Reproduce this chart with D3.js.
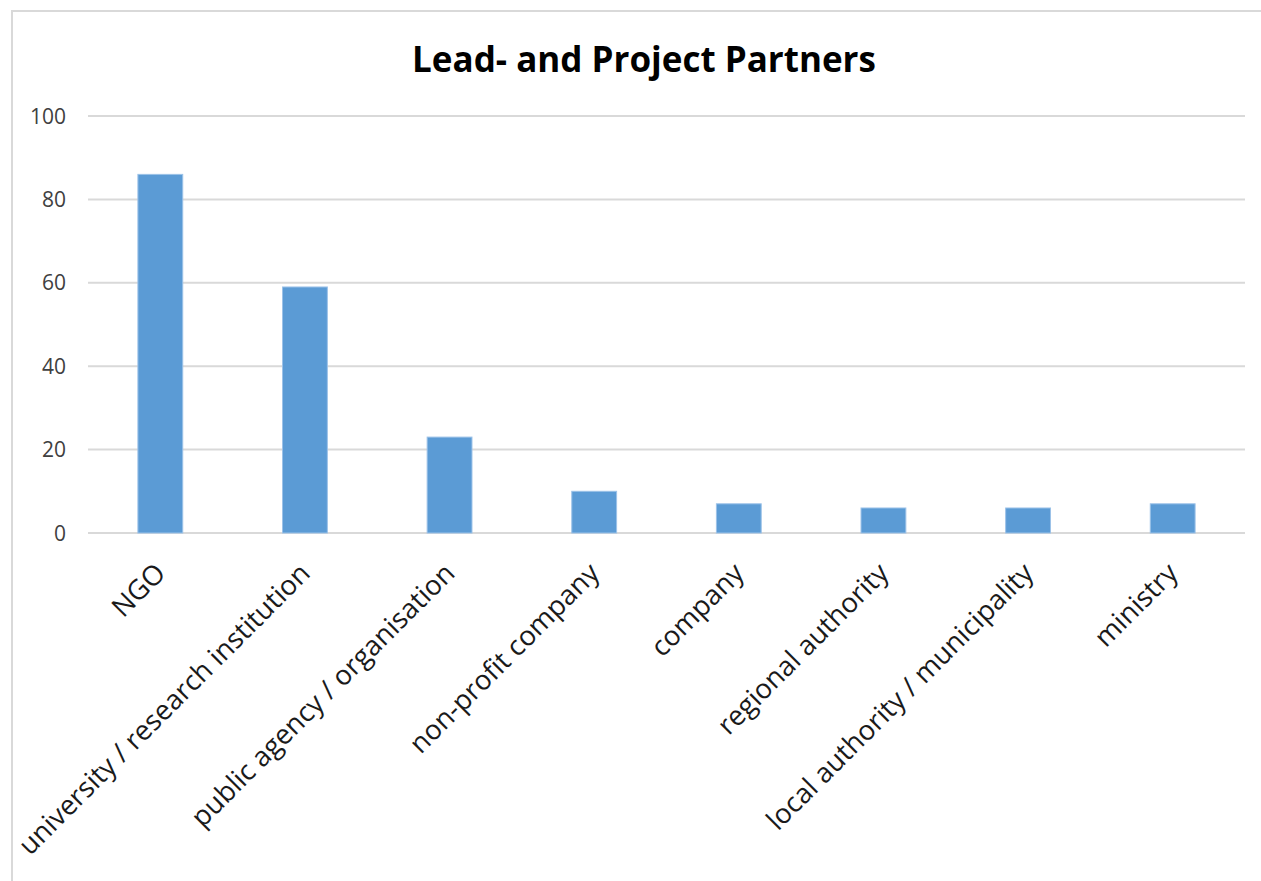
<!DOCTYPE html>
<html>
<head>
<meta charset="utf-8">
<script src="https://cdn.jsdelivr.net/npm/d3@7"></script>
<style>
  body { margin: 0; background: #fff; }
  svg { display: block; font-family: "Open Sans", Lato, sans-serif; }
</style>
</head>
<body>
<svg id="chart" width="1261" height="881"></svg>
<script>
// chart data
var categories = [
  "NGO",
  "university / research institution",
  "public agency / organisation",
  "non-profit company",
  "company",
  "regional authority",
  "local authority / municipality",
  "ministry"
];
var partners = [86, 59, 23, 10, 7, 6, 6, 7];
var yTicks = [0, 20, 40, 60, 80, 100];
var chartTitle = "Lead- and Project Partners";

var svg = d3.select("#chart");

// chart area frame (only top and left edges show in the crop)
svg.append("path")
  .attr("d", "M12,881V11H1261")
  .attr("fill", "none")
  .attr("stroke", "#d9d9d9")
  .attr("stroke-width", 2);

var x = d3.scaleBand()
  .domain(categories)
  .range([88, 1245])
  .paddingInner(0.69)
  .paddingOuter(0.345);

var y = d3.scaleLinear()
  .domain([0, 100])
  .range([533, 116]);

// gridlines
svg.append("g")
  .selectAll("line")
  .data(yTicks)
  .enter().append("line")
  .attr("x1", 88)
  .attr("x2", 1245)
  .attr("y1", function(d) { return y(d); })
  .attr("y2", function(d) { return y(d); })
  .attr("stroke", "#d9d9d9")
  .attr("stroke-width", 2);

// y tick labels
svg.append("g")
  .selectAll("text")
  .data(yTicks)
  .enter().append("text")
  .attr("x", 66)
  .attr("y", function(d) { return y(d); })
  .attr("dy", "0.36em")
  .attr("text-anchor", "end")
  .attr("font-size", 21)
  .attr("fill", "#404040")
  .text(function(d) { return d; });

// bars
svg.append("g")
  .selectAll("rect")
  .data(partners)
  .enter().append("rect")
  .attr("x", function(d, i) { return x(categories[i]); })
  .attr("y", function(d) { return y(d); })
  .attr("width", x.bandwidth())
  .attr("height", function(d) { return y(0) - y(d); })
  .attr("fill", "#5b9bd5")
  .attr("stroke", "#9cc2e8")
  .attr("stroke-width", 1);

// category labels, rotated
svg.append("g")
  .selectAll("text")
  .data(categories)
  .enter().append("text")
  .attr("transform", function(d) {
    return "translate(" + (x(d) + x.bandwidth() / 2) + ",568) rotate(-45)";
  })
  .attr("dy", "0.35em")
  .attr("text-anchor", "end")
  .attr("font-size", 27.5)
  .attr("fill", "#1a1a1a")
  .text(function(d) { return d; });

// title
svg.append("text")
  .attr("x", 644)
  .attr("y", 72)
  .attr("text-anchor", "middle")
  .attr("font-size", 35)
  .attr("font-weight", "bold")
  .attr("fill", "#000")
  .text(chartTitle);
</script>
</body>
</html>
